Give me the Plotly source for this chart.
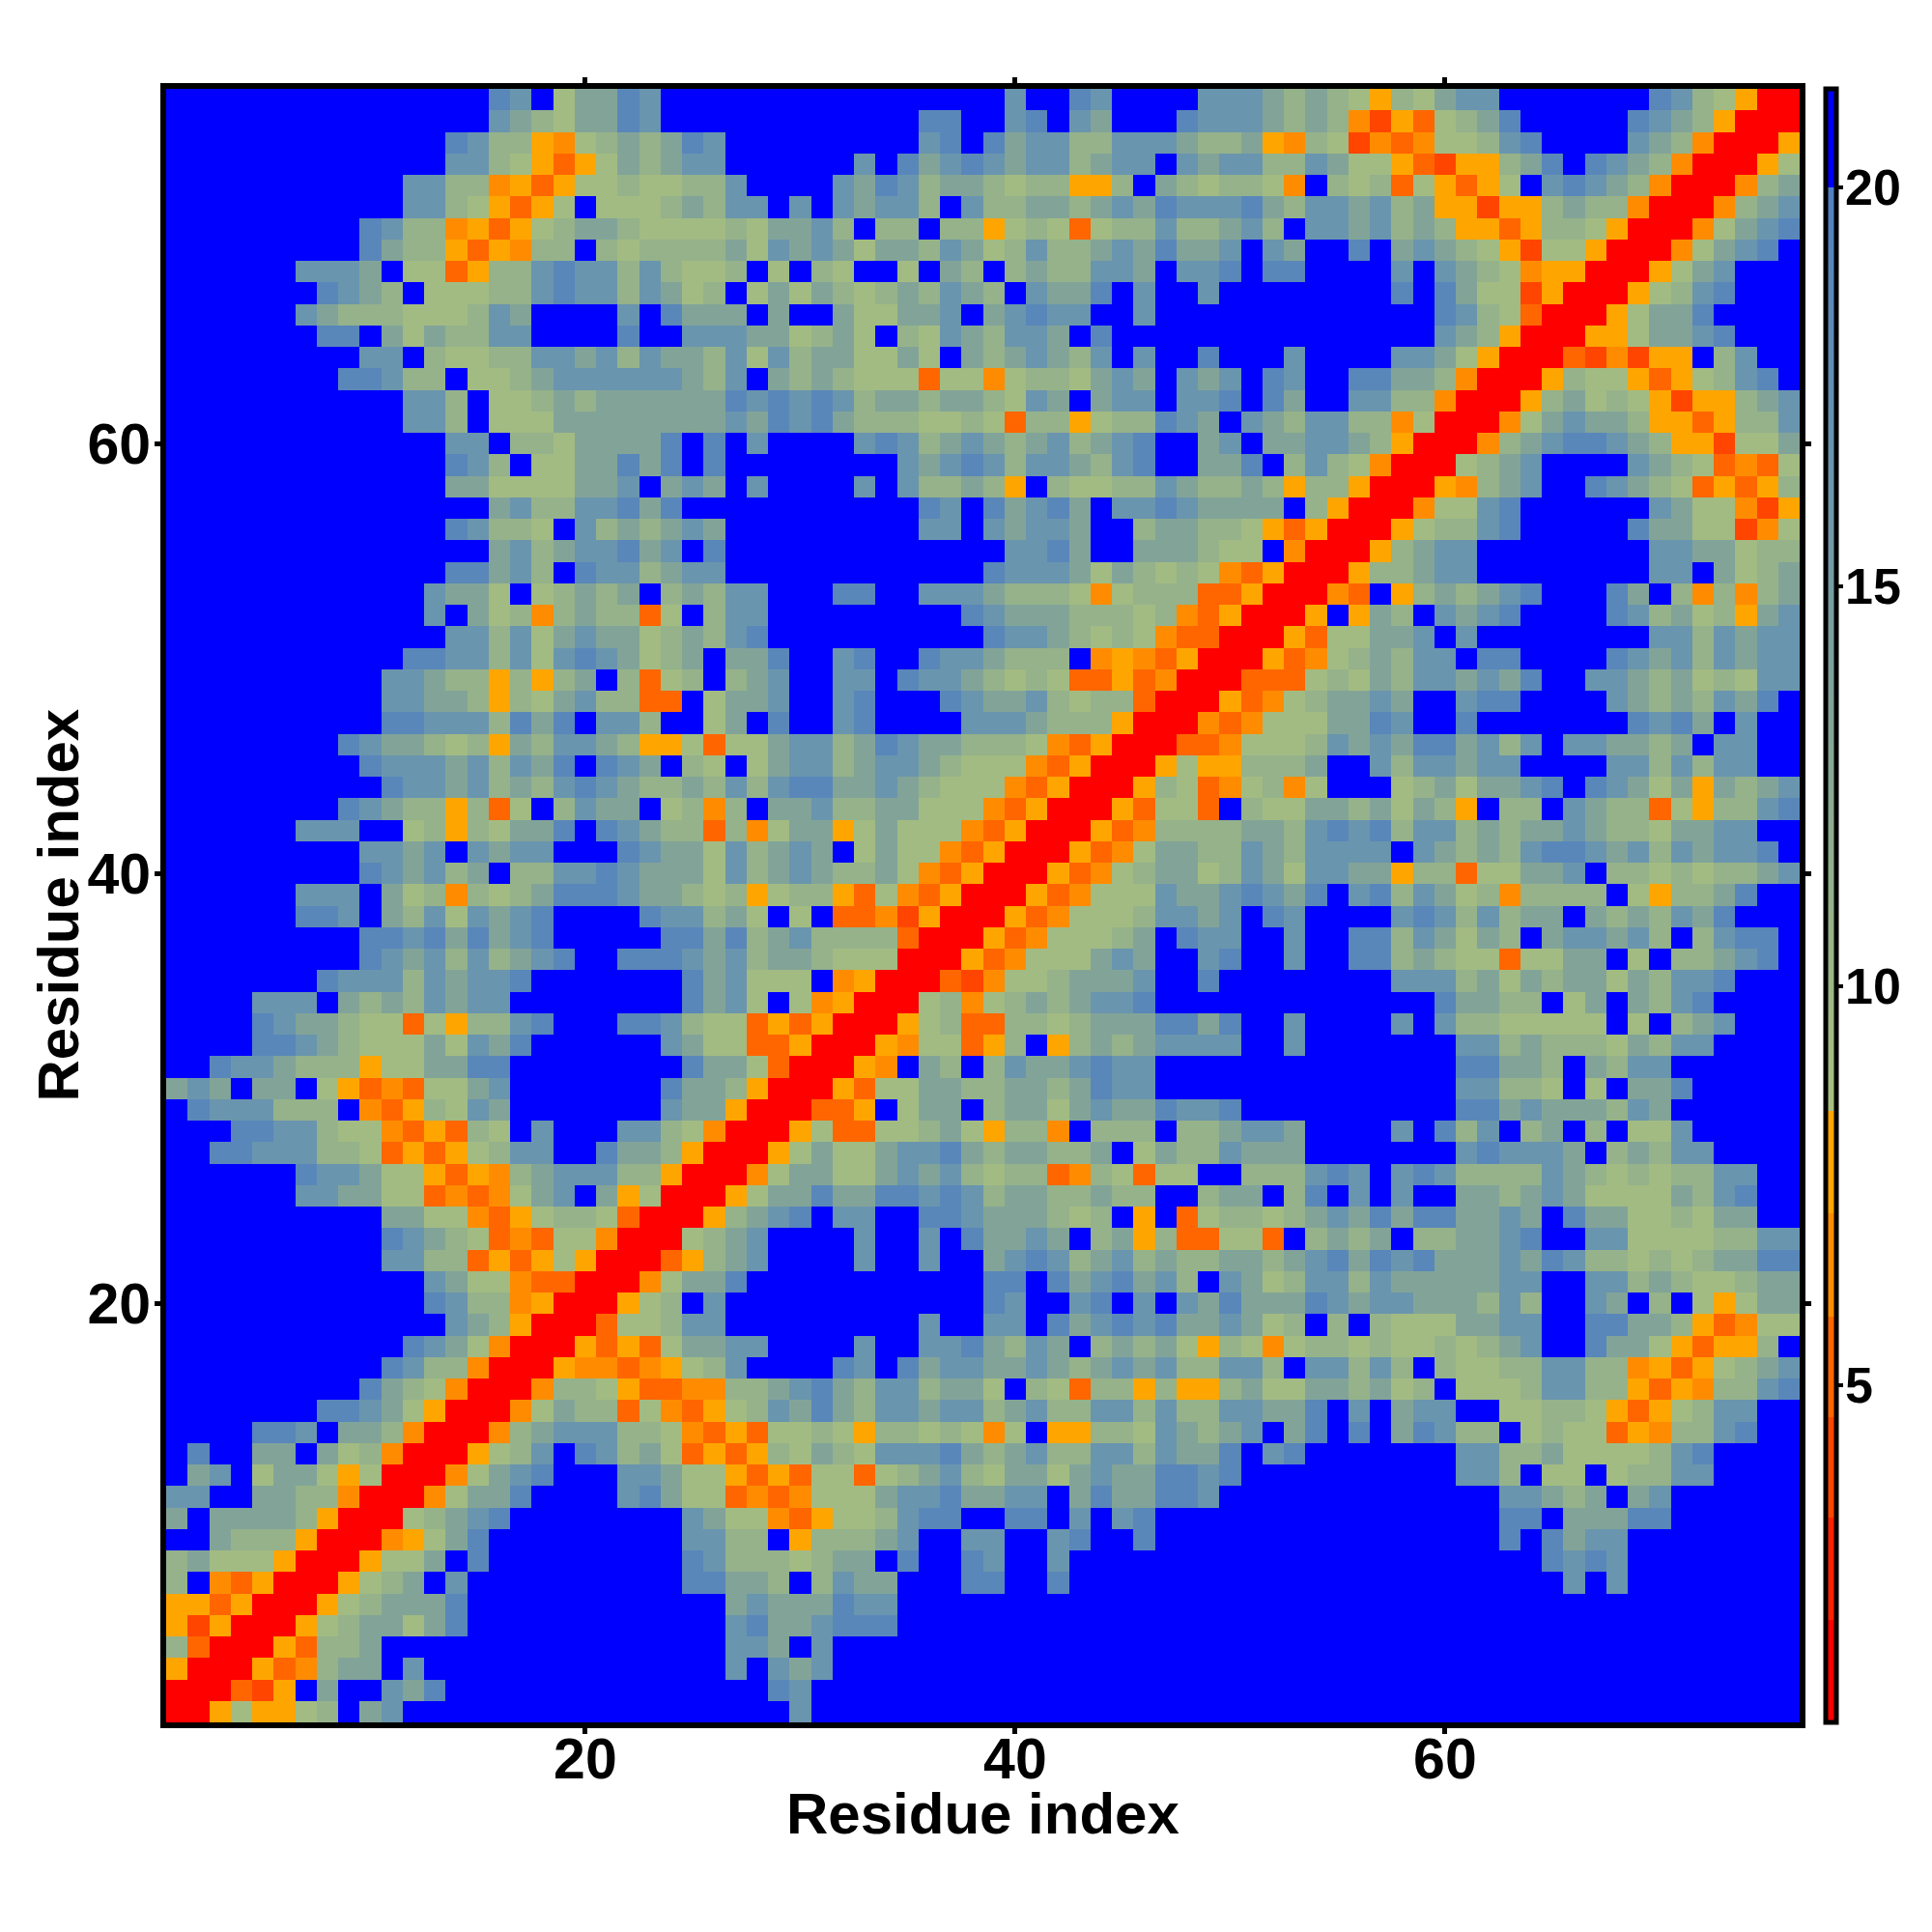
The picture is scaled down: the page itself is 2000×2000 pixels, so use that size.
import plotly.graph_objects as go

LEVELS = {".": 20.6, "b": 18.8, "t": 16.5, "m": 13.5, "h": 11.0, "g": 9.3,
          "o": 7.8, "O": 6.5, "f": 5.2, "F": 4.0, "r": 1.4}

# Map rows from top (residue 76) to bottom (residue 1), split by column block.
COLS_1_25 = [
"...............bt.gmmbt..", "...............tmhgmmbt..", ".............bthhoOghmhmb", ".............tthgofogmhmt",
"...........tthhOofogghggh", "...........tthgofog.ggghm", ".........bthhOofoghmmhggg", ".........bmhhofoOhh.hghhh",
"......tttm.ggfohhtbtththg", ".......btmh.ggghhtbtthtmg", "......tmhhhggghtm....t.bm", ".......bb.mgmhhtt....b..t",
".........tt.hgghhttmthtmm", "........bbthh.gghmttttttm", "...........tth.gghmhmmmmm", "...........tth.gggmmmmmmm",
".............tt.hhgmmmmb.", ".............bth.ggmmbmb.", ".............mmggggmmt.mt", "...............mthhttbmb.",
".............bthhg.thmhmt", "...............mthmttbmt.", ".............bbmth.btthmt", "............tmmg.ghmhm.hm",
"............t.mghOhmhhfg.", ".............tthtgmtmmghm", "...........bbtthtgtbtmghm", "..........ttmhhohohm.hfgh",
"..........ttmmhohgmthhff.", "..........bbttthbmb.tth..", "........btmmhghomhttmhoog", ".........btttmthtmb.btm.h",
"..........bttmthmhtbtmhhm", "........btmhhohfg.htmm.gh", "......ttt..ghohgmmb.btmhh", ".........ttmt.tmtt...btmm",
".........btmthm.hhttbtmmm", "......ttt.mghOhghmbbbtmmh", "......bbt.mhtgtmtb....btt", ".........bbtbmbmtb.....bb",
".........btmththmtb..bbbt", ".......bttthtmttb.......b", "....ttt.mhmhtmtt........b", "....btmmhggfgohhtb...bbth",
"....bbtmhgggmgtmb......tm", "..bttmhhhoggmmbb........b", "mtm.mm.gofOfggmt.......bm", ".bttthhh.Ofohgtm.......tm",
"...bbtthggOfofhg.t...tthg", "..bbttthhgfofoghtt..bmmho", "......bttmggofoOhmttthhor", "......ttmmggfOfOgmt.mogrr",
"..........mmggOfoghhgfrrr", "..........btmhgfOfggOrrrg", "..........tthhfofogorrrfo", "............tmggOffrrrOgm",
"............bthhOorrrogh.", ".............tmhorrrfgght", "...........btmgOrrrofofgm", "..........bthhOrrroOOfOog",
".........bmhgOrrrOhhgoffO", ".......bbtmgorrrOgmhhfgOf", "....bbt.mmhOrrrOhmttthhgO", ".b..mm.mghOrrroght.bthmgf",
".mt.gmmgogrrrOgmtb...ttmg", "tt..mmhhOrrrOgmmb....tbmg", "m.mmmmhorrrghmtb........t", "..mhhhorrrOogmb.........t",
"hmgggorrroggm.b.........b", "h.Oforrroghm.t..........b", "ooforrroghmmmb...........", "oForrroghmmgmb...........",
"hfrrrofhhm...............", "orrrofOhmm.t.............", "rrrfFo.m..tmb............", "rrogoogh.mt..............",
]
COLS_26_51 = [
"..............t..bt....ttt", "..........bb..tb.tm...bttt", "t.........tb.bmtthhtttmhhm", "t......t.bmtbtmtthmtt.tmtt",
"ht....tmbthmmhghhooh.mhghh", "htt.t.tmtth.thhmmhmtmbtttb", "ghgmmth.hh.hhoghgfghhthhmt", "hmgtmtmgmmhtmghthhmtmbmmt.",
"gh.g.hg..g.mh.hmhhttm.ttb.", "h.gmgmhghmhtmh.tmmb.t..t..", "mm.m..mggmmt.mtbtt..t.....", "ttmmghmg.hgtmhttm.b.......",
"htgthmmggmg.mhmtmht.t..b..", "ht.mhmhgggfggOghhgmtm.tmt.", "mbtbtbthmmhmmhgtm.mtt.ttb.", "mtmbtbmhhhgghgfhhoghhbtm.t",
"b.t....tbthmtmhmthmtb..mt.", "b........tmtbthttmhtb..mmb", "m.t....t.thhmho.hgghhtmhhm", "..........bt.bmtbm.ttbtmmm",
"m.........tt.tmttm..hmmhhg", "b.............ttbm..mmmhgg", "t............btttmgmhghgOf", "htt...bb..tttmhhhgOghhhffo",
"htt.........btmmmhhhghOfor", "htb..........bttmhghgOffrr", ".mmb..tb..bttmhhh.OoOforrr", ".hmt..tt.bttmhghgffofOrrrf",
"gmmt..tb...btmmthghhfrrrof", "gm.b..tb....tttmhhhorrrOfO", "fggmtthmbtmmhhhgOforrrffOg", "g.gmtthmttmhgggOforrrogooh",
"hthtbbmmtmhgggOforrrohgfOg", "Oh.mmthhmmgggOforrrofggf.h", "fhOgmmogmgggOforrrofOhhhhm", "gthmtm.gmggOforrrofOgmmhht",
"gthmtmhhmgOforrrofOghmmght", "ghoghhofgOforrrofOgggtmmtb", "hmg.g.ffOForrrofOggghttmt.", "mbhmthhhhfrrrofOggghm.btt.",
"mthmmhgggrrrofOgggmtm..tb.", "mtggg.OorrrfFOgghmmmt..b..", "mtg.gOorrrghOghmhmttb.....", "ggfoforrroghffhhghmmmbbmb.",
"ggfforrroOggfoh.ohmhmtttt.", "mmgfrrroO.mh.htmmtbtt.....", "mhorrrofggmmhhmmhmbtt.....", "morrrffo.gmm.hmmgmtmmbttb.",
"OrrrogffgghmgohhO.hhh.hhmt", "rrrogmggmttbmhmmhhm.gmhhtm", "rrOgmmggmtmthghhfOhgfgg..h", "rogmmbmmbbtbthmmhhmhh..hmm",
"ohmtb.tt..bbtmmmhgh.o.fghh", "hmt....t..t.bmmtm.hmohffgg", "hmt....t..t..mtbthmthmhhmm", "mb...........bb.bmtbmth.tm",
"t............bt..tb.t.tmbm", "t.........t..tt.bmtbtbmmtm", "mtt....t..ttbmhtm.hmhmgohg", "ht....bt.bmttmmtmhmtmthhtt",
"Ohhmtbmhtthmmg.hgfhhohoohm", "oghtmbmhttmtthmthhtththhtt", "fofgghgohhghgOg.oohhgtmhmt", "ofohgmhgtttbmhmthhtthtmmb.",
"gofofggfghmthgmmgmtmmbbtb.", "gfOfOgggmttbmmtt.mbmmbbt..", "mggOfogghtbb..bb.t.tb.....", "thh.ohhhmt..tt..tb..b.....",
"thhhghmm.b..bt..t.........", "bmmh.htmm...bb..b.........", ".mtmmmbtt.................", ".tbmmtbbb.................",
".ttm.t....................", ".t.tmt....................", "...bt.....................", "....t.....................",
]
COLS_52_76 = [
"mhmhgohgmtt.......bthgorr", "mhmhOFofghmb.....btmhorrr", "oOhgFOfOgghtb....tmhOrrro", "hhtmggofFoohmb.btmhOrrrog",
"gO.hghfgofog.tbtmhOrrrOhm", "mhttmthmooFoohmhhOrrrOhmt", "h.ttmthmhoofohhgorrrOgmtb", "tm..b.mtmhgoFggorrrOgmtb.",
"bb....t.tmhgOoorrrogmt...", "......b.bmggForrroghtb...", "........bthgfrrrogmmb....", "........tmhorrroogmmtb...",
".t....ttmgorrrfFOFoo.ht..", "bt..bbmmhOrrrohggofoghtb.", "bm..tthhOrrrohmghgoFoohmt", "mhtthhOgrrrOgmtmmhoofohht",
"mmttmhorrrOhmtbbtmhooFggm", ".hthgOrrrghmt....tmhgfOfg", "hohhorrroOhmt..btmhgfofoh", "m.horrrOggtb......tmggOFo",
"oforrroghhtb.....bmmggFOg", ".Orrrohmtt........ttmmghh", "orrrohhmtt........tt.mghm", "rrrOf.ohmhmtb...bm.hOhOhm",
"rro.omh.tmtb....bthmghomt", "rofggmmt.t........tthtmtt", "ofOghmhtt.bb....btmthtmtt", "ffghgmhttmtmb..ttmhmghgtt",
"Oghmmtm..tbb....tmhmhtmb.", "gggmmbt..b.......btbm.t..", "gghtmtmbbmtht.ttmmhm.tt..", "hhm..thttmtt....tththtt..",
"hOg...ghmgmmtb.btmgmomhmt", "ggmmhmgmho.hh.tmhhfgohhtb", "mhtbtbhtthmhmmtmhhgmmtt..", "mhtttt.tmhmhtbbtmthtmttb.",
"mgttmmohhfggmmt.hhghghhmt", "tmb.tbhtmghOhhhh.gohhmb..", "bt....tbththmm.mhmhtmb...", ".t..bbhtmgmh.mttmth.htbb.",
".t..bbhmhggfggmm.g.hhmtb.", "......ttthmgmhmmgmhttb...", "........bmmhh.gm.mhtb....", ".t....t.thhggggg.g.hmt...",
".t.......tthmhhhgmhtt....", ".........bbmmh.mhtt......", ".........tthhg.g.mmb.....", ".........bbmtmmmhtm......",
"tm....t.bht.hm.h.ggt.....", "mm.......tbtttm.hmhtt....", "hhtbt.tbthhhhtmhghghhtt..", ".hb.t.t..mmhmtmggggmhtb..",
"ghmtmbmbbmmtm.bmmgghgmm..", "f.hmhm.hhmmtb..ttgggghhtt", "hmtbmbtbmmmtmbthhghghmmbb", "ghtthtmmmmmtt..tthmhgghmm",
"mmbtmttmmmhth..tm.h.gogmm", "gh.h.hgggmmtt..bbmmhofOgg", "Oghhghgghghmt..bmmgofooh.", "h.tthth.hgghhtthhOofoghmt",
"ggmmhmgh.ggghtthhofoOhhtb", "mmb.t.mtt..gghhgofoghtt..", ".mb.b.mbthh.ghggfoOhhtb..", "tb.......tthhmgggghtb....",
".........tth.gg.ghhtt....", "...........ttmhm.mt......", "...........bb.mmmbb......", "...........b.bmtt........",
".............btbt........", "..............t.t........", ".........................", ".........................",
".........................", ".........................", ".........................", ".........................",
]

TICKS = [20, 40, 60]
CBAR_TICKS = [5, 10, 15, 20]
AXIS_TITLE = "Residue index"
ZMIN, ZMAX = 0.78, 21.23

rows_top_down = [a + b + c for a, b, c in zip(COLS_1_25, COLS_26_51, COLS_52_76)]
z = [[LEVELS[ch] for ch in row] for row in reversed(rows_top_down)]
residues = list(range(1, 77))


def n(v):
    return (v - ZMIN) / (ZMAX - ZMIN)


bands = [(0.78, 2.06, "#ff0000"), (2.06, 3.34, "#ff2200"), (3.34, 4.6, "#ff4500"),
         (4.6, 5.86, "#ff6600"), (5.86, 7.15, "#ff8c00"), (7.15, 8.43, "#ffa500")]
scale = []
for lo, hi, col in bands:
    scale += [[n(lo), col], [n(hi), col]]
scale += [[n(8.43), "#a8c080"], [n(11.0), "#95b28a"], [n(13.5), "#82a498"], [n(16.5), "#6a95ae"],
          [n(20.0), "#5080c0"], [n(20.0), "#0000ff"], [1.0, "#0000ff"]]

font_family = "Liberation Sans"
label_font = dict(family=font_family, size=52, color="black", weight=700)
title_font = dict(family=font_family, size=60, color="black", weight=700)

fig = go.Figure(go.Heatmap(
    z=z, x=residues, y=residues, zmin=ZMIN, zmax=ZMAX, colorscale=scale, hoverinfo="skip",
    colorbar=dict(
        x=1.0157, xanchor="left", xpad=0, y=0.5, yanchor="middle", len=1, ypad=0,
        thickness=11, outlinewidth=5, outlinecolor="black",
        tickmode="array", tickvals=CBAR_TICKS, ticks="outside", ticklen=5, tickwidth=4,
        tickcolor="black", showticklabels=False,
    ),
))
axis = dict(
    range=[0.5, 76.5], tickmode="array", tickvals=TICKS, ticks="outside", ticklen=6, tickwidth=5,
    tickcolor="black", showline=True, linewidth=6, linecolor="black", mirror="ticks",
    showgrid=False, zeroline=False,
    tickfont=dict(family=font_family, size=59, color="black", weight=700),
)
annotations = [
    dict(text=str(v), x=1.0266, y=n(v), xref="paper", yref="paper", xanchor="left", yanchor="middle",
         showarrow=False, font=label_font)
    for v in CBAR_TICKS
]
annotations += [
    dict(text=AXIS_TITLE, x=0.5, y=-0.0559, xref="paper", yref="paper", xanchor="center", yanchor="middle",
         showarrow=False, font=title_font),
    dict(text=AXIS_TITLE, x=-0.0662, y=0.5, xref="paper", yref="paper", xanchor="center", yanchor="middle",
         textangle=-90, showarrow=False, font=title_font),
]
fig.update_layout(
    width=2000, height=2000, autosize=False,
    margin=dict(l=164, r=145, t=84, b=225, pad=0),
    paper_bgcolor="white", plot_bgcolor="white",
    xaxis=dict(axis, ticklabelstandoff=-25),
    yaxis=dict(axis, ticklabelstandoff=-8),
    annotations=annotations,
)
fig.write_html("out.html")
